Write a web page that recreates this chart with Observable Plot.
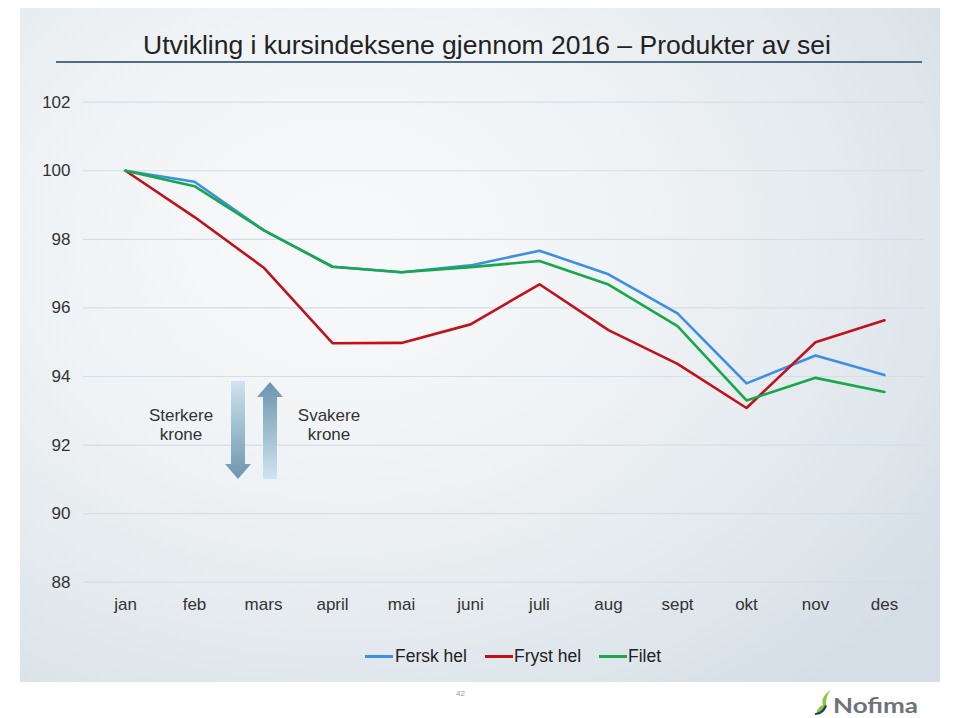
<!DOCTYPE html>
<html>
<head>
<meta charset="utf-8">
<script src="https://cdn.jsdelivr.net/npm/d3@7"></script>
<script src="https://cdn.jsdelivr.net/npm/@observablehq/plot@0.6"></script>
<style>
  html, body { margin: 0; padding: 0; background: #ffffff; }
  #wrap { position: relative; width: 955px; height: 718px; overflow: hidden; font-family: "Liberation Sans", Arial, sans-serif; }
  #panel { position: absolute; left: 20px; top: 8px; width: 920px; height: 674px;
    background: radial-gradient(ellipse 80% 85% at 35% 35%, #f8f9fa 0%, #f0f3f5 40%, #e0e7ec 78%, #d5dee6 100%); }
  #title { position: absolute; left: 0; width: 974px; top: 30px; text-align: center; font-size: 26.5px; color: #222; white-space: nowrap; }
  #rule { position: absolute; left: 56px; width: 866px; top: 61px; height: 1.5px; background: #4f6c86; }
  #chart { position: absolute; left: 0; top: 0; }
  .lbl { position: absolute; font-size: 17px; color: #333; text-align: center; line-height: 19px; }
  .leg { position: absolute; font-size: 17.5px; color: #222; top: 646px; white-space: nowrap; }
  .sw { position: absolute; height: 3px; top: 655px; width: 28px; }
  #page { position: absolute; left: 456px; top: 689px; font-size: 8px; color: #999; }
  #logo { position: absolute; left: 814px; top: 688px; }
</style>
</head>
<body>
<div id="wrap">
  <div id="panel"></div>
  <div id="title">Utvikling i kursindeksene gjennom 2016 – Produkter av sei</div>
  <div id="rule"></div>
  <div id="chart"></div>
  <div class="lbl" style="left:131px; top:406px; width:100px;">Sterkere<br>krone</div>
  <div class="lbl" style="left:279px; top:406px; width:100px;">Svakere<br>krone</div>
  <svg id="arrows" width="955" height="718" style="position:absolute;left:0;top:0;">
    <defs>
      <linearGradient id="gdown" x1="0" y1="0" x2="0" y2="1">
        <stop offset="0" stop-color="#cfe3ef"/>
        <stop offset="1" stop-color="#6c95ae"/>
      </linearGradient>
      <linearGradient id="gup" x1="0" y1="0" x2="0" y2="1">
        <stop offset="0" stop-color="#6b94ad"/>
        <stop offset="1" stop-color="#cfe4f0"/>
      </linearGradient>
    </defs>
    <path d="M231,381 L245,381 L245,464 L251,464 L238,479 L225,464 L231,464 Z" fill="url(#gdown)"/>
    <path d="M270,382 L283,397 L277,397 L277,479 L263,479 L263,397 L257,397 Z" fill="url(#gup)"/>
  </svg>
  <div class="sw" style="left:365px; background:#3d8fe6;"></div>
  <div class="leg" style="left:395px;">Fersk hel</div>
  <div class="sw" style="left:485px; background:#c1121c;"></div>
  <div class="leg" style="left:514px;">Fryst hel</div>
  <div class="sw" style="left:599px; background:#17a84a;"></div>
  <div class="leg" style="left:628px;">Filet</div>
  <div id="page">42</div>
  <div id="logo">
    <svg width="120" height="28">
      <path d="M17,2 C10,6 7,12 9,17 C4,19 2,23 3,26 C9,25 13,20 12,15 C12,10 14,5 17,2 Z" fill="#8cc63f"/>
      <path d="M1,27 C6,27 11,24 13,18 L11,17 C9,22 5,25 1,25 Z" fill="#1f3f66"/>
      <text x="19" y="25" font-family="Lato, 'Liberation Sans', sans-serif" font-weight="bold" font-size="20" fill="#6e737a" textLength="85" lengthAdjust="spacingAndGlyphs">Nofima</text>
    </svg>
  </div>
</div>
<script>
const months = ["jan","feb","mars","april","mai","juni","juli","aug","sept","okt","nov","des"];
const ferskHel = [100, 99.68, 98.27, 97.20, 97.04, 97.24, 97.67, 96.98, 95.84, 93.80, 94.61, 94.04];
const frystHel = [100, 98.65, 97.18, 94.97, 94.98, 95.52, 96.69, 95.35, 94.37, 93.08, 95.00, 95.64];
const filet    = [100, 99.55, 98.27, 97.20, 97.04, 97.19, 97.37, 96.68, 95.47, 93.30, 93.96, 93.55];
const seriesNames = ["Fersk hel", "Fryst hel", "Filet"];
const seriesColors = ["#3d8fe6", "#c1121c", "#17a84a"];
const yTicks = [88, 90, 92, 94, 96, 98, 100, 102];

const rows = [];
[ferskHel, frystHel, filet].forEach((vals, i) => {
  vals.forEach((v, j) => rows.push({series: seriesNames[i], month: months[j], value: v}));
});

const chart = Plot.plot({
  width: 955,
  height: 718,
  marginLeft: 83,
  marginRight: 31,
  marginTop: 102,
  marginBottom: 136,
  style: {background: "transparent", fontFamily: "'Liberation Sans', Arial, sans-serif", fontSize: "17px", color: "#333"},
  x: {type: "point", domain: months, range: [120, 889], padding: 0, label: null},
  y: {domain: [88, 102], range: [581.7, 101.7], label: null},
  color: {domain: seriesNames, range: seriesColors},
  marks: [
    Plot.ruleY(yTicks, {stroke: "#d3dee7", strokeWidth: 1.2}),
    Plot.axisY({ticks: yTicks, tickSize: 0, tickPadding: 13, label: null, fontSize: 17}),
    Plot.axisX({tickSize: 0, tickPadding: 15, label: null, fontSize: 17}),
    Plot.line(rows, {x: "month", y: "value", z: "series", stroke: "series", strokeWidth: 2.6, strokeLinejoin: "round"})
  ]
});
document.getElementById("chart").appendChild(chart);
</script>
</body>
</html>
